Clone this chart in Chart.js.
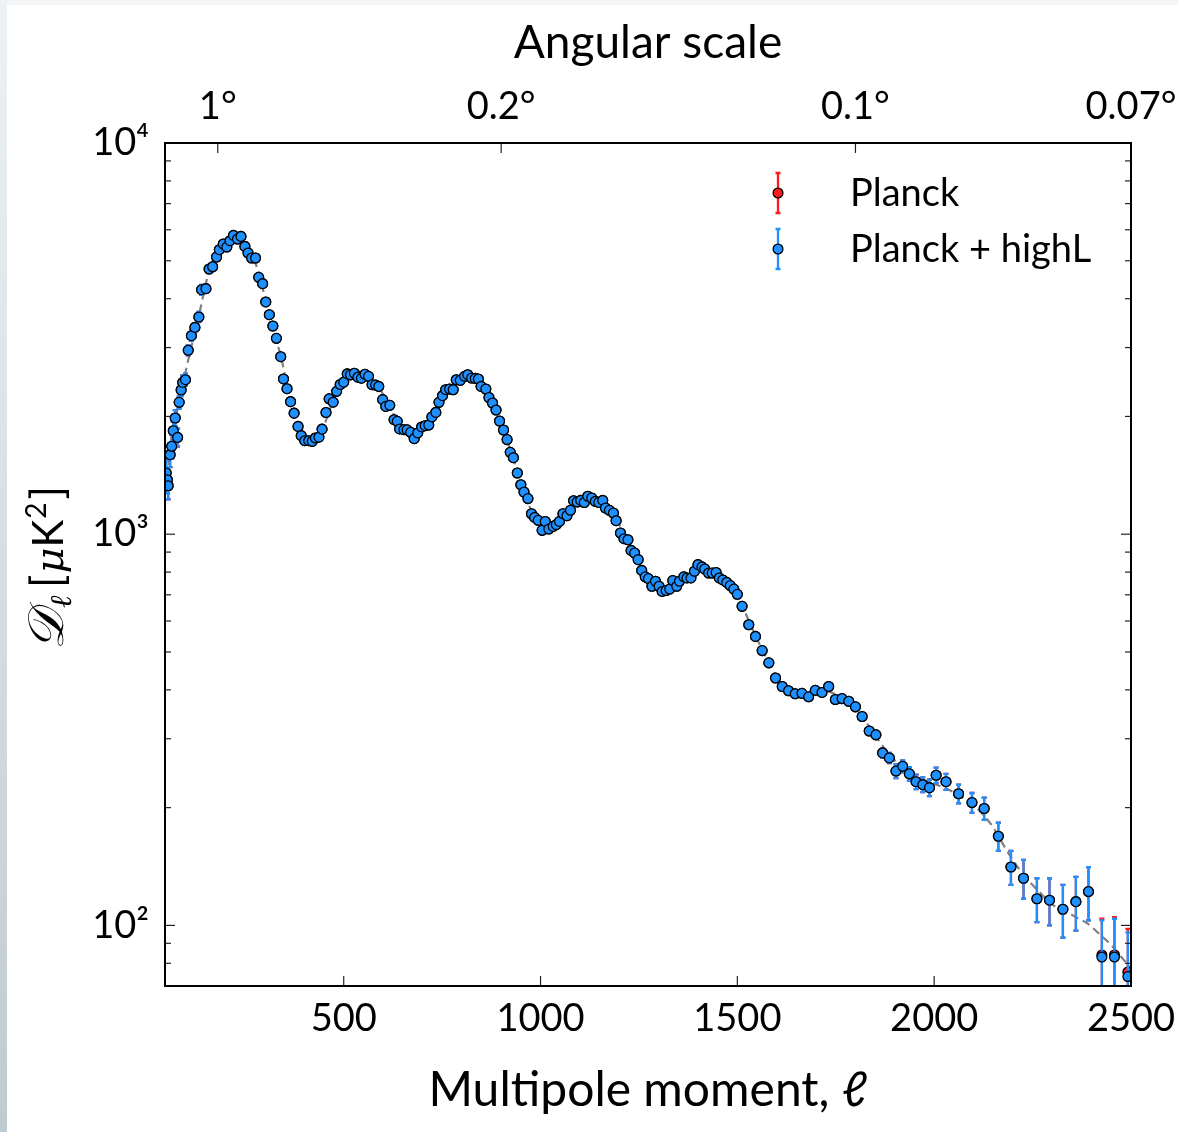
<!DOCTYPE html>
<html>
<head>
<meta charset="utf-8">
<script src="https://cdn.jsdelivr.net/npm/chart.js@4.4.1/dist/chart.umd.min.js"></script>
<style>
  html, body { margin: 0; padding: 0; background: #fff; }
  #page { position: relative; width: 1178px; height: 1132px; overflow: hidden; }
  #edgeTop { position: absolute; left: 0; top: 0; width: 1178px; height: 5px; background: #f3f4f5; }
  #edgeLeft { position: absolute; left: 0; top: 0; width: 7px; height: 1132px; background: linear-gradient(#eef1f3, #bfcbd1); }
  canvas { position: absolute; left: 0; top: 0; }
</style>
</head>
<body>
<div id="page">
  <div id="edgeTop"></div>
  <div id="edgeLeft"></div>
  <canvas id="cmb" width="1178" height="1132"></canvas>
</div>
<script>
// multipole bins (ell) and band powers D_ell [uK^2]
const ell = [
  49, 52, 54, 59, 63, 67, 72, 78, 82, 87,
  91, 98, 105, 113, 122, 132, 139, 150, 158, 167,
  177, 184, 194, 203, 211, 220, 230, 239, 249, 257,
  266, 276, 284, 294, 302, 311, 320, 329, 340, 347,
  356, 365, 374, 384, 392, 401, 411, 420, 428, 437,
  445, 455, 463, 473, 482, 491, 500, 509, 517, 527,
  536, 545, 554, 563, 572, 581, 589, 599, 607, 617,
  628, 636, 642, 653, 661, 670, 679, 688, 698, 707,
  716, 724, 734, 742, 751, 759, 769, 778, 786, 796,
  807, 815, 825, 834, 842, 849, 861, 869, 878, 887,
  896, 906, 915, 923, 931, 941, 950, 958, 968, 977,
  985, 994, 1004, 1012, 1021, 1032, 1040, 1048, 1057, 1067,
  1076, 1084, 1093, 1102, 1111, 1120, 1130, 1139, 1148, 1158,
  1165, 1175, 1185, 1192, 1203, 1212, 1222, 1230, 1239, 1248,
  1257, 1266, 1274, 1283, 1292, 1301, 1309, 1319, 1328, 1336,
  1346, 1353, 1364, 1372, 1382, 1391, 1400, 1410, 1417, 1427,
  1436, 1446, 1454, 1463, 1473, 1482, 1491, 1500, 1512, 1529,
  1546, 1563, 1580, 1597, 1614, 1630, 1647, 1664, 1681, 1698,
  1715, 1732, 1749, 1766, 1783, 1800, 1817, 1835, 1852, 1869,
  1886, 1903, 1920, 1937, 1954, 1971, 1988, 2005, 2030, 2062,
  2096, 2127, 2163, 2195, 2227, 2261, 2293, 2327, 2360, 2392,
  2426, 2458, 2492
];
const dlHighL = [
  1434, 1378, 1330, 1597, 1677, 1839, 1982, 1768, 2173, 2337,
  2444, 2483, 2951, 3217, 3378, 3592, 4217, 4243, 4764, 4828,
  5112, 5337, 5518, 5422, 5627, 5805, 5683, 5771, 5441, 5233,
  5083, 5083, 4535, 4370, 3924, 3640, 3406, 3167, 2843, 2494,
  2355, 2182, 2039, 1886, 1786, 1734, 1734, 1727, 1762, 1770,
  1856, 2047, 2218, 2175, 2318, 2414, 2447, 2569, 2555, 2579,
  2520, 2505, 2563, 2532, 2411, 2405, 2387, 2208, 2122, 2135,
  1962, 1943, 1858, 1850, 1848, 1821, 1755, 1815, 1880, 1894,
  1902, 1994, 2048, 2173, 2260, 2341, 2351, 2340, 2483, 2473,
  2532, 2557, 2508, 2502, 2494, 2387, 2351, 2236, 2164, 2077,
  1947, 1847, 1745, 1619, 1569, 1434, 1338, 1282, 1233, 1128,
  1104, 1085, 1023, 1078, 1031, 1047, 1058, 1078, 1128, 1115,
  1151, 1218, 1209, 1220, 1205, 1250, 1238, 1213, 1206, 1220,
  1167, 1151, 1133, 1083, 1007, 974, 968, 909, 895, 861,
  808, 778, 770, 736, 758, 736, 714, 718, 724, 761,
  736, 758, 778, 773, 773, 804, 836, 825, 815, 796,
  796, 798, 773, 764, 753, 739, 724, 702, 654, 587,
  548, 504, 469, 429, 408, 398, 391, 392, 384, 399,
  394, 408, 378, 380, 374, 362, 342, 314, 307, 276,
  268, 248, 255, 244, 233, 229, 225, 242, 233, 217,
  206, 199, 169, 141, 132, 117, 116, 110, 115, 122,
  83, 83, 74
];
// 1-sigma error bars [uK^2]
const errHighL = [
  110, 106, 102, 113, 119, 98, 94, 94, 78, 83,
  101, 88, 87, 95, 80, 106, 124, 100, 84, 85,
  92, 94, 97, 95, 99, 102, 100, 101, 96, 92,
  89, 89, 80, 77, 69, 64, 60, 56, 50, 44,
  41, 38, 36, 33, 31, 30, 30, 30, 31, 31,
  32, 35, 38, 37, 39, 40, 41, 43, 42, 43,
  42, 41, 42, 41, 39, 39, 38, 36, 34, 34,
  31, 31, 29, 29, 29, 28, 27, 28, 29, 29,
  29, 30, 31, 33, 34, 35, 35, 35, 37, 36,
  37, 37, 36, 36, 36, 34, 33, 32, 31, 30,
  28, 27, 25, 23, 22, 21, 19, 18, 18, 17,
  16, 16, 15, 16, 15, 15, 15, 16, 16, 16,
  17, 18, 18, 18, 18, 19, 18, 18, 18, 18,
  17, 17, 17, 16, 15, 14, 14, 14, 13, 13,
  12, 12, 12, 11, 12, 11, 11, 11, 11, 12,
  11, 12, 12, 12, 12, 12, 13, 13, 13, 13,
  13, 13, 13, 12, 12, 12, 12, 12, 11, 10,
  10, 9, 9, 8, 8, 8, 8, 8, 8, 8,
  8, 8, 8, 8, 8, 6, 6, 7, 7, 7,
  8, 10, 9, 10, 10, 10, 11, 11, 11, 12,
  12, 13, 14, 14, 15, 15, 16, 17, 18, 19,
  20, 21, 22
];
// Planck alone: same bins, only the last three points differ visibly
const dlPlanck = dlHighL.slice(0, -3).concat([84, 84, 76]);
const errPlanck = errHighL;

// best-fit model (grey dashed)
const modelL = [45, 50, 70, 100, 130, 160, 190, 220, 250, 280, 310, 340, 370, 400, 420, 440, 470, 500, 530, 560,
  590, 620, 650, 680, 710, 740, 770, 800, 830, 860, 890, 920, 950, 980, 1010, 1040, 1070, 1100, 1130, 1160,
  1190, 1220, 1250, 1280, 1310, 1340, 1370, 1400, 1430, 1460, 1490, 1520, 1550, 1580, 1610, 1640, 1670, 1700, 1730, 1760,
  1790, 1820, 1850, 1880, 1910, 1940, 1970, 2000, 2030, 2060, 2090, 2120, 2150, 2180, 2210, 2240, 2270, 2300, 2330, 2360,
  2390, 2420, 2450, 2480, 2500];
const modelD = [1400, 1420, 1900, 2650, 3550, 4780, 5450, 5750, 5450, 4800, 3650, 2850, 2100, 1740, 1720, 1790, 2150, 2450, 2560, 2540,
  2370, 2080, 1880, 1800, 1890, 2130, 2370, 2500, 2510, 2360, 2040, 1680, 1360, 1130, 1050, 1060, 1140, 1210, 1235, 1200,
  1100, 970, 850, 760, 720, 740, 775, 805, 800, 770, 725, 630, 540, 470, 415, 392, 388, 395, 396, 383,
  368, 338, 306, 278, 258, 246, 236, 230, 224, 216, 206, 194, 178, 158, 142, 130, 121, 113, 109, 105,
  101, 95, 89, 82, 78];

// axes
const xTicks = [500, 1000, 1500, 2000, 2500];
const topTicks = [180, 900, 1800, 2500];
const topLabels = ['1°', '0.2°', '0.1°', '0.07°'];
const yTicks = [100, 1000, 10000];
const yLabels = ['10²', '10³', '10⁴'];
const yMinor = [80, 90, 200, 300, 400, 500, 600, 700, 800, 900, 2000, 3000, 4000, 5000, 6000, 7000, 8000, 9000];

const BLUE = '#1e90ff';
const RED = '#ff1a1a';
const FONT = 'Lato';

const pts = (xs, ys) => xs.map((x, i) => ({ x: x, y: ys[i] }));

const errorBars = {
  id: 'errorBars',
  beforeDatasetDraw(chart, args) {
    const ds = chart.data.datasets[args.index];
    if (!ds.errors) return;
    const { ctx, chartArea: a } = chart;
    const ys = chart.scales.y;
    ctx.save();
    ctx.beginPath();
    ctx.rect(a.left, a.top, a.right - a.left, a.bottom - a.top);
    ctx.clip();
    ctx.strokeStyle = ds.errorColor;
    ctx.lineWidth = 2.3;
    args.meta.data.forEach((p, i) => {
      const v = ds.data[i].y, e = ds.errors[i];
      const top = ys.getPixelForValue(v + e);
      const bot = v - e > 0 ? ys.getPixelForValue(v - e) : a.bottom + 20;
      ctx.beginPath();
      ctx.moveTo(p.x, top); ctx.lineTo(p.x, bot);
      ctx.moveTo(p.x - 2.5, top); ctx.lineTo(p.x + 2.5, top);
      ctx.moveTo(p.x - 2.5, bot); ctx.lineTo(p.x + 2.5, bot);
      ctx.stroke();
    });
    ctx.restore();
  }
};

const frame = {
  id: 'frame',
  afterDatasetsDraw(chart) {
    const { ctx, chartArea: a, scales } = chart;
    const seg = (x1, y1, x2, y2) => { ctx.beginPath(); ctx.moveTo(x1, y1); ctx.lineTo(x2, y2); ctx.stroke(); };
    ctx.save();
    ctx.strokeStyle = '#222';
    ctx.lineWidth = 1.2;
    xTicks.forEach(v => { const px = scales.x.getPixelForValue(v); seg(px, a.bottom, px, a.bottom - 10); });
    topTicks.forEach(v => { const px = scales.x2.getPixelForValue(v); seg(px, a.top, px, a.top + 10); });
    yTicks.forEach(v => {
      const py = scales.y.getPixelForValue(v);
      seg(a.left, py, a.left + 10, py); seg(a.right, py, a.right - 10, py);
    });
    yMinor.forEach(v => {
      const py = scales.y.getPixelForValue(v);
      seg(a.left, py, a.left + 6, py); seg(a.right, py, a.right - 6, py);
    });
    ctx.strokeStyle = '#000';
    ctx.lineWidth = 2;
    ctx.strokeRect(a.left, a.top, a.right - a.left, a.bottom - a.top);
    ctx.restore();
  }
};

const legendBox = {
  id: 'legendBox',
  afterDraw(chart) {
    const { ctx, chartArea: a } = chart;
    const items = chart.data.datasets.filter(d => d.errors);
    ctx.save();
    items.forEach((d, i) => {
      const x = a.right - 353, y = a.top + 50 + i * 56;
      ctx.strokeStyle = d.errorColor;
      ctx.lineWidth = 2.3;
      ctx.beginPath();
      ctx.moveTo(x, y - 20); ctx.lineTo(x, y + 20);
      ctx.moveTo(x - 2.5, y - 20); ctx.lineTo(x + 2.5, y - 20);
      ctx.moveTo(x - 2.5, y + 20); ctx.lineTo(x + 2.5, y + 20);
      ctx.stroke();
      ctx.beginPath();
      ctx.arc(x, y, 4.9, 0, Math.PI * 2);
      ctx.fillStyle = d.backgroundColor;
      ctx.fill();
      ctx.lineWidth = 1.3;
      ctx.strokeStyle = '#000';
      ctx.stroke();
      ctx.fillStyle = '#000';
      ctx.font = '38px ' + FONT;
      ctx.textBaseline = 'middle';
      ctx.fillText(d.label, x + 72, y + 1);
    });
    ctx.restore();
  }
};

const yTitle = {
  id: 'yTitle',
  afterDraw(chart) {
    const ctx = chart.ctx;
    ctx.save();
    ctx.translate(63, 650);
    ctx.rotate(-Math.PI / 2);
    ctx.fillStyle = '#000';
    ctx.textBaseline = 'alphabetic';
    ctx.font = 'italic 50px "DejaVu Serif"';
    ctx.fillText('𝒟', 0, 0);
    ctx.font = 'italic 30px "DejaVu Serif"';
    ctx.fillText('ℓ', 42, 8);
    let x = 62;
    ctx.font = '44px ' + FONT;
    ctx.fillText('[', x, 0);
    x += ctx.measureText('[').width + 1;
    ctx.font = 'italic 40px "DejaVu Serif"';
    ctx.fillText('μ', x, 0);
    x += ctx.measureText('μ').width;
    ctx.font = '42px ' + FONT;
    ctx.fillText('K', x, 0);
    x += ctx.measureText('K').width + 1;
    ctx.font = '28px ' + FONT;
    ctx.fillText('2', x, -17);
    x += ctx.measureText('2').width + 3;
    ctx.font = '44px ' + FONT;
    ctx.fillText(']', x, 0);
    ctx.restore();
  }
};

// keep the plot frame fixed: labels may hang past the plot edges
const fitX = h => s => { s.height = h; s.paddingLeft = 0; s.paddingRight = 0; };

new Chart(document.getElementById('cmb'), {
  type: 'scatter',
  data: {
    datasets: [
      {
        label: 'model',
        data: pts(modelL, modelD),
        showLine: true,
        borderColor: '#7f7f7f',
        borderWidth: 2.2,
        borderDash: [8, 5],
        cubicInterpolationMode: 'monotone',
        pointRadius: 0,
        order: 3
      },
      {
        label: 'Planck',
        data: pts(ell, dlPlanck),
        errors: errPlanck,
        errorColor: RED,
        backgroundColor: RED,
        borderColor: '#000',
        borderWidth: 1.3,
        pointRadius: 4.9,
        order: 2
      },
      {
        label: 'Planck + highL',
        data: pts(ell, dlHighL),
        errors: errHighL,
        errorColor: BLUE,
        backgroundColor: BLUE,
        borderColor: '#000',
        borderWidth: 1.3,
        pointRadius: 4.9,
        order: 1
      }
    ]
  },
  options: {
    responsive: false,
    animation: false,
    events: [],
    layout: { padding: { left: 0, right: 47, top: 0, bottom: 0 } },
    plugins: { legend: { display: false }, tooltip: { enabled: false } },
    scales: {
      x: {
        type: 'linear',
        position: 'bottom',
        min: 46,
        max: 2500,
        afterBuildTicks: s => { s.ticks = xTicks.map(v => ({ value: v })); },
        afterFit: fitX(146),
        grid: { display: false, drawTicks: false },
        border: { display: false },
        ticks: {
          autoSkip: false, maxRotation: 0, padding: 10, color: '#000',
          font: { family: FONT, size: 38 },
          callback: v => String(v)
        },
        title: {
          display: true,
          text: 'Multipole moment, ℓ',
          color: '#000',
          font: { family: FONT, size: 48 },
          padding: { top: 0, bottom: 13 }
        }
      },
      x2: {
        type: 'linear',
        position: 'top',
        min: 46,
        max: 2500,
        afterBuildTicks: s => { s.ticks = topTicks.map(v => ({ value: v })); },
        afterFit: fitX(143),
        grid: { display: false, drawTicks: false },
        border: { display: false },
        ticks: {
          autoSkip: false, maxRotation: 0, padding: 13, color: '#000',
          font: { family: FONT, size: 38 },
          callback: v => topLabels[topTicks.indexOf(v)]
        },
        title: {
          display: true,
          text: 'Angular scale',
          color: '#000',
          font: { family: FONT, size: 46 },
          padding: { top: 16, bottom: 0 }
        }
      },
      y: {
        type: 'logarithmic',
        position: 'left',
        min: 70,
        max: 10000,
        afterBuildTicks: s => { s.ticks = yTicks.concat(yMinor).sort((p, q) => p - q).map(v => ({ value: v })); },
        afterFit: s => { s.width = 165; s.paddingTop = 0; s.paddingBottom = 0; },
        grid: { display: false, drawTicks: false },
        border: { display: false },
        ticks: {
          autoSkip: false, padding: 16, color: '#000',
          font: { family: FONT, size: 38 },
          callback: v => (yTicks.includes(v) ? yLabels[yTicks.indexOf(v)] : '')
        }
      }
    }
  },
  plugins: [errorBars, frame, legendBox, yTitle]
});
</script>
</body>
</html>
